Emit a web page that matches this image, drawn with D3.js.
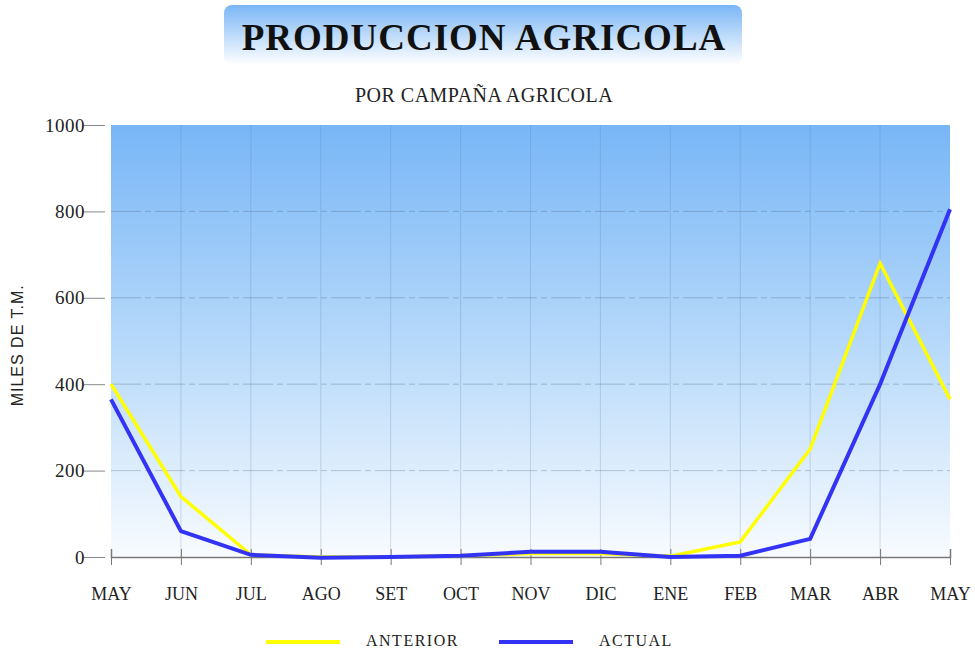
<!DOCTYPE html>
<html>
<head>
<meta charset="utf-8">
<script src="https://cdn.jsdelivr.net/npm/d3@7"></script>
<style>
  body { margin: 0; background: #fff; }
</style>
</head>
<body>
<div id="chart"></div>
<script>
var months = ["MAY", "JUN", "JUL", "AGO", "SET", "OCT", "NOV", "DIC", "ENE", "FEB", "MAR", "ABR", "MAY"];
var anterior = [400, 140, 5, 0, 0, 3, 8, 8, 2, 35, 250, 680, 365];
var actual = [365, 60, 5, -2, 0, 3, 12, 12, 0, 3, 42, 400, 805];
var yTicks = [0, 200, 400, 600, 800, 1000];

var margin = { top: 125, right: 25, bottom: 94, left: 111 },
    width = 975 - margin.left - margin.right,
    height = 651 - margin.top - margin.bottom;

var root = d3.select("#chart")
    .append("svg")
    .attr("width", 975)
    .attr("height", 651);

var defs = root.append("defs");
var bg = defs.append("linearGradient").attr("id", "bg")
    .attr("x1", 0).attr("y1", 0).attr("x2", 0).attr("y2", 1);
bg.append("stop").attr("offset", "0%").attr("stop-color", "#78b6f7");
bg.append("stop").attr("offset", "55%").attr("stop-color", "#bcdcfa");
bg.append("stop").attr("offset", "100%").attr("stop-color", "#f8fbff");

var tg = defs.append("linearGradient").attr("id", "tbg")
    .attr("x1", 0).attr("y1", 0).attr("x2", 0).attr("y2", 1);
tg.append("stop").attr("offset", "0%").attr("stop-color", "#7ab6f5");
tg.append("stop").attr("offset", "100%").attr("stop-color", "#ffffff");

// Title box
root.append("rect")
    .attr("x", 224).attr("y", 5)
    .attr("width", 518).attr("height", 60)
    .attr("rx", 8)
    .attr("fill", "url(#tbg)");

root.append("text")
    .attr("x", 484).attr("y", 50)
    .attr("text-anchor", "middle")
    .style("font-family", "'Liberation Serif', serif")
    .style("font-weight", "bold")
    .style("font-size", "37px")
    .style("letter-spacing", "1px")
    .style("fill", "#111")
    .text("PRODUCCION AGRICOLA");

root.append("text")
    .attr("x", 484).attr("y", 102)
    .attr("text-anchor", "middle")
    .style("font-family", "'Liberation Serif', serif")
    .style("font-size", "20px")
    .style("letter-spacing", "0.5px")
    .style("fill", "#222")
    .text("POR CAMPAÑA AGRICOLA");

var svg = root.append("g")
    .attr("transform", "translate(" + margin.left + "," + margin.top + ")");

var x = d3.scalePoint()
    .domain(d3.range(months.length))
    .range([0, width]);

var y = d3.scaleLinear()
    .domain([0, 1000])
    .range([height, 0]);

svg.append("rect")
    .attr("width", width)
    .attr("height", height)
    .attr("fill", "url(#bg)");

// vertical grid
svg.append("g")
    .selectAll("line")
    .data(d3.range(1, months.length - 1))
    .enter()
    .append("line")
    .attr("x1", function(d) { return x(d); })
    .attr("x2", function(d) { return x(d); })
    .attr("y1", 0)
    .attr("y2", height)
    .attr("stroke", "#5a7fa8")
    .attr("stroke-opacity", 0.25)
    .attr("stroke-width", 1);

// horizontal grid
svg.append("g")
    .selectAll("line")
    .data(yTicks.slice(1, -1))
    .enter()
    .append("line")
    .attr("x1", 0)
    .attr("x2", width)
    .attr("y1", function(d) { return y(d); })
    .attr("y2", function(d) { return y(d); })
    .attr("stroke", "#4a5e78")
    .attr("stroke-opacity", 0.3)
    .attr("stroke-dasharray", "30,4,6,4");

// axes
var yAxis = svg.append("g")
    .call(d3.axisLeft(y).tickValues(yTicks).tickSize(22).tickPadding(6).tickFormat(d3.format("d")));
yAxis.select(".domain").remove();
yAxis.selectAll("line").attr("stroke", "#888").attr("transform", "translate(-6,0)");
yAxis.selectAll("text")
    .attr("x", -26)
    .style("font-family", "'Liberation Serif', serif")
    .style("font-size", "19px")
    .style("letter-spacing", "0.5px")
    .style("fill", "#222");

var xAxis = svg.append("g")
    .attr("transform", "translate(0," + height + ")")
    .call(d3.axisBottom(x).tickSize(-8).tickPadding(0).tickFormat(function(i) { return months[i]; }));
xAxis.select(".domain").attr("stroke", "#777").attr("stroke-width", 1.5);
xAxis.selectAll("line").attr("stroke", "#777").attr("y2", 8).attr("y1", -8);
xAxis.selectAll("text")
    .attr("y", 30)
    .style("font-family", "'Liberation Serif', serif")
    .style("font-size", "18px")
    .style("letter-spacing", "0px")
    .style("fill", "#222");

svg.append("text")
    .attr("transform", "rotate(-90)")
    .attr("x", -(y(490)))
    .attr("y", -88)
    .attr("text-anchor", "middle")
    .style("font-family", "'Liberation Sans', sans-serif")
    .style("font-size", "16px")
    .style("letter-spacing", "1px")
    .style("fill", "#222")
    .text("MILES DE T.M.");

var line = d3.line()
    .x(function(d, i) { return x(i); })
    .y(function(d) { return y(d); });

svg.append("path")
    .datum(anterior)
    .attr("fill", "none")
    .attr("stroke", "#ffff00")
    .attr("stroke-width", 3.5)
    .attr("d", line);

svg.append("path")
    .datum(actual)
    .attr("fill", "none")
    .attr("stroke", "#3333f5")
    .attr("stroke-width", 4)
    .attr("d", line);

// legend
var legend = root.append("g").attr("transform", "translate(0,642)");
var items = [
    { name: "ANTERIOR", color: "#ffff00", x: 266 },
    { name: "ACTUAL", color: "#3333f5", x: 499 }
];
items.forEach(function(it) {
    legend.append("line")
        .attr("x1", it.x).attr("x2", it.x + 74)
        .attr("y1", 0).attr("y2", 0)
        .attr("stroke", it.color)
        .attr("stroke-width", 4);
    legend.append("text")
        .attr("x", it.x + 100)
        .attr("y", 4)
        .style("font-family", "'Liberation Serif', serif")
        .style("font-size", "16px")
        .style("letter-spacing", "1.5px")
        .style("fill", "#222")
        .text(it.name);
});
</script>
</body>
</html>
